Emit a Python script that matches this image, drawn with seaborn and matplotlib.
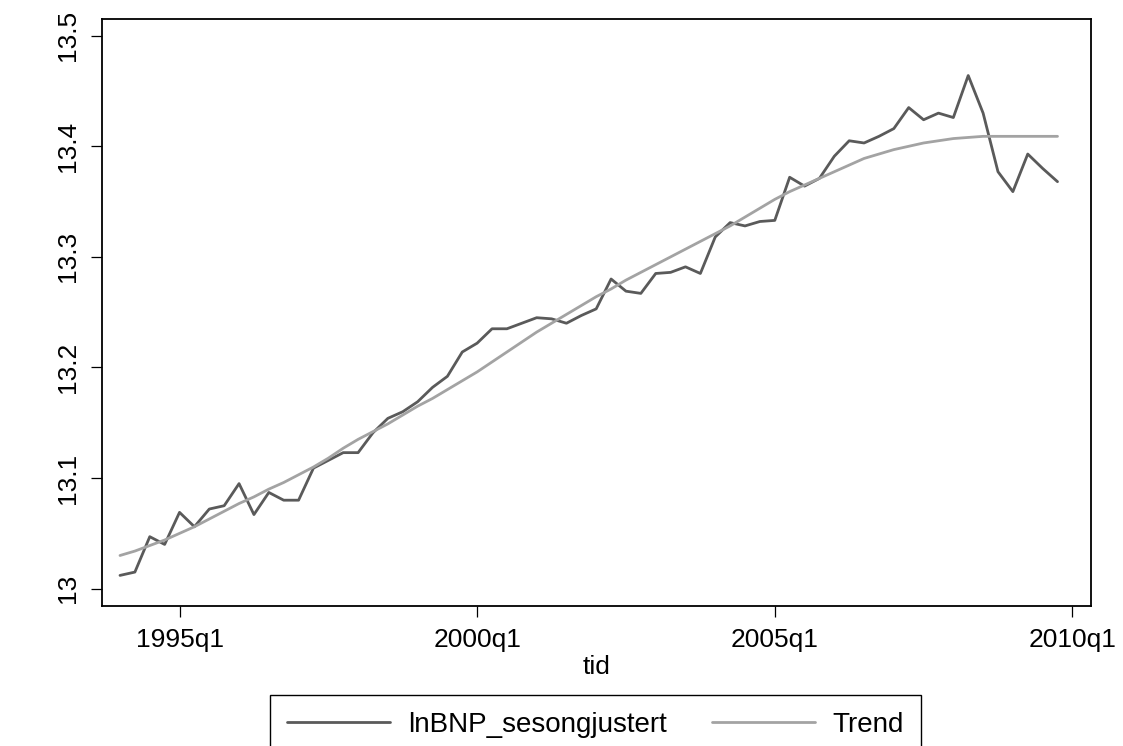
import numpy as np
import pandas as pd
import matplotlib
matplotlib.use("Agg")
import matplotlib.pyplot as plt
import seaborn as sns
from matplotlib.lines import Line2D

# ---- data (Stata quarterly dates: 136 = 1994q1 ... 199 = 2009q4) ----
tid = np.arange(136, 200)

lnBNP_sesongjustert = [
    13.012, 13.015, 13.047, 13.040, 13.069, 13.056, 13.072, 13.075,
    13.095, 13.067, 13.087, 13.080, 13.080, 13.109, 13.116, 13.123,
    13.123, 13.141, 13.154, 13.160, 13.169, 13.182, 13.192, 13.214,
    13.222, 13.235, 13.235, 13.240, 13.245, 13.244, 13.240, 13.247,
    13.253, 13.280, 13.269, 13.267, 13.285, 13.286, 13.291, 13.285,
    13.318, 13.331, 13.328, 13.332, 13.333, 13.372, 13.364, 13.371,
    13.391, 13.405, 13.403, 13.409, 13.416, 13.435, 13.424, 13.430,
    13.426, 13.464, 13.430, 13.377, 13.359, 13.393, 13.380, 13.368,
]

Trend = [
    13.030, 13.034, 13.039, 13.044, 13.050, 13.056, 13.063, 13.070,
    13.077, 13.083, 13.090, 13.096, 13.103, 13.110, 13.118, 13.127,
    13.135, 13.142, 13.149, 13.157, 13.165, 13.172, 13.180, 13.188,
    13.196, 13.205, 13.214, 13.223, 13.232, 13.240, 13.248, 13.256,
    13.264, 13.271, 13.279, 13.286, 13.293, 13.300, 13.307, 13.314,
    13.321, 13.328, 13.336, 13.344, 13.352, 13.359, 13.365, 13.371,
    13.377, 13.383, 13.389, 13.393, 13.397, 13.400, 13.403, 13.405,
    13.407, 13.408, 13.409, 13.409, 13.409, 13.409, 13.409, 13.409,
]

x_ticks = [140, 160, 180, 200]
x_ticklabels = ["1995q1", "2000q1", "2005q1", "2010q1"]
y_ticks = [13.0, 13.1, 13.2, 13.3, 13.4, 13.5]
y_ticklabels = ["13", "13.1", "13.2", "13.3", "13.4", "13.5"]

series_names = ["lnBNP_sesongjustert", "Trend"]
series_colors = ["#5a5a5a", "#a3a3a3"]

# ---- style ----
sns.set_style("white", {"text.color": "black", "axes.labelcolor": "black",
                        "xtick.color": "black", "ytick.color": "black"})
plt.rcParams["font.family"] = ["Liberation Sans", "DejaVu Sans"]

W, H = 1123, 746
fig = plt.figure(figsize=(W / 100, H / 100), dpi=100)
left, right, top, bottom = 102.3, 1090.7, 19.0, 605.7
ax = fig.add_axes([left / W, 1 - bottom / H, (right - left) / W, (bottom - top) / H])

df = pd.DataFrame({
    "tid": np.concatenate([tid, tid]),
    "value": np.concatenate([lnBNP_sesongjustert, Trend]),
    "series": [series_names[0]] * len(tid) + [series_names[1]] * len(tid),
})

sns.lineplot(data=df, x="tid", y="value", hue="series",
             palette=dict(zip(series_names, series_colors)),
             linewidth=2.0, ax=ax, legend=False, sort=False)

ax.set_xlim(134.81, 201.23)
ax.set_ylim(12.9846, 13.5151)

FS = 19
ax.set_xticks(x_ticks)
ax.set_xticklabels(x_ticklabels, fontsize=FS, color="black")
ax.set_yticks(y_ticks)
ax.set_yticklabels(y_ticklabels, fontsize=FS, rotation=90, va="center",
                   color="black")
ax.tick_params(axis="both", which="major", direction="out", length=8,
               width=0.9, color="black", labelcolor="black", pad=8,
               bottom=True, left=True)
ax.set_xlabel("tid", fontsize=FS, labelpad=2, color="black")
ax.set_ylabel("")

for s in ax.spines.values():
    s.set_color("black")
    s.set_linewidth(1.3)

handles = [Line2D([], [], color=c, linewidth=2.0) for c in series_colors]
leg = fig.legend(handles, series_names, loc="upper center",
                 bbox_to_anchor=(595.5 / W, 1 - 695 / H), ncol=2,
                 frameon=True, fancybox=False, edgecolor="black",
                 framealpha=1, fontsize=20, handlelength=3.7,
                 handletextpad=0.64, columnspacing=1.64, borderpad=0.6,
                 borderaxespad=0.0, labelcolor="black")
leg.get_frame().set_linewidth(1.0)

fig.savefig("out.png", dpi=100)
